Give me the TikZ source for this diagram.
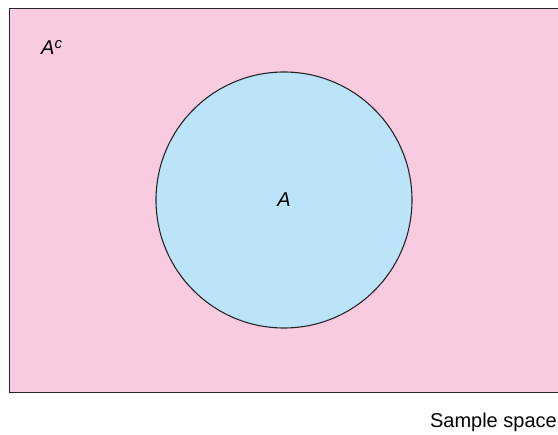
\documentclass[tikz,border=0pt]{standalone}
\usepackage{fontspec}
\setmainfont{Liberation Sans}
\definecolor{pinkbg}{RGB}{249,203,224}
\definecolor{bluein}{RGB}{187,228,248}
\tikzset{
  lbl/.style={inner sep=0pt, font=\fontsize{20}{24}\selectfont},
  edge/.style={draw=black!85, line width=1.1pt}
}
\begin{document}
\begin{tikzpicture}[x=1pt,y=-1pt]
\useasboundingbox (0,0) rectangle (558,435);
\fill[white] (0,0) rectangle (558,435);
\node[edge, fill=pinkbg, rectangle, inner sep=0pt, minimum width=552pt, minimum height=384pt, anchor=north west] (space) at (9,8) {};
\node[edge, fill=bluein, circle, inner sep=0pt, minimum size=256pt] (A) at (284,200) {};
\node[lbl] (Alabel) at (A.center) {\itshape A};
\node[lbl, anchor=west] (Ac) at (41,47) {\itshape A\raisebox{6pt}{\fontsize{15}{18}\selectfont c}};
\node[lbl, anchor=base east] (ss) at (557,428) {Sample space};
\end{tikzpicture}
\end{document}
